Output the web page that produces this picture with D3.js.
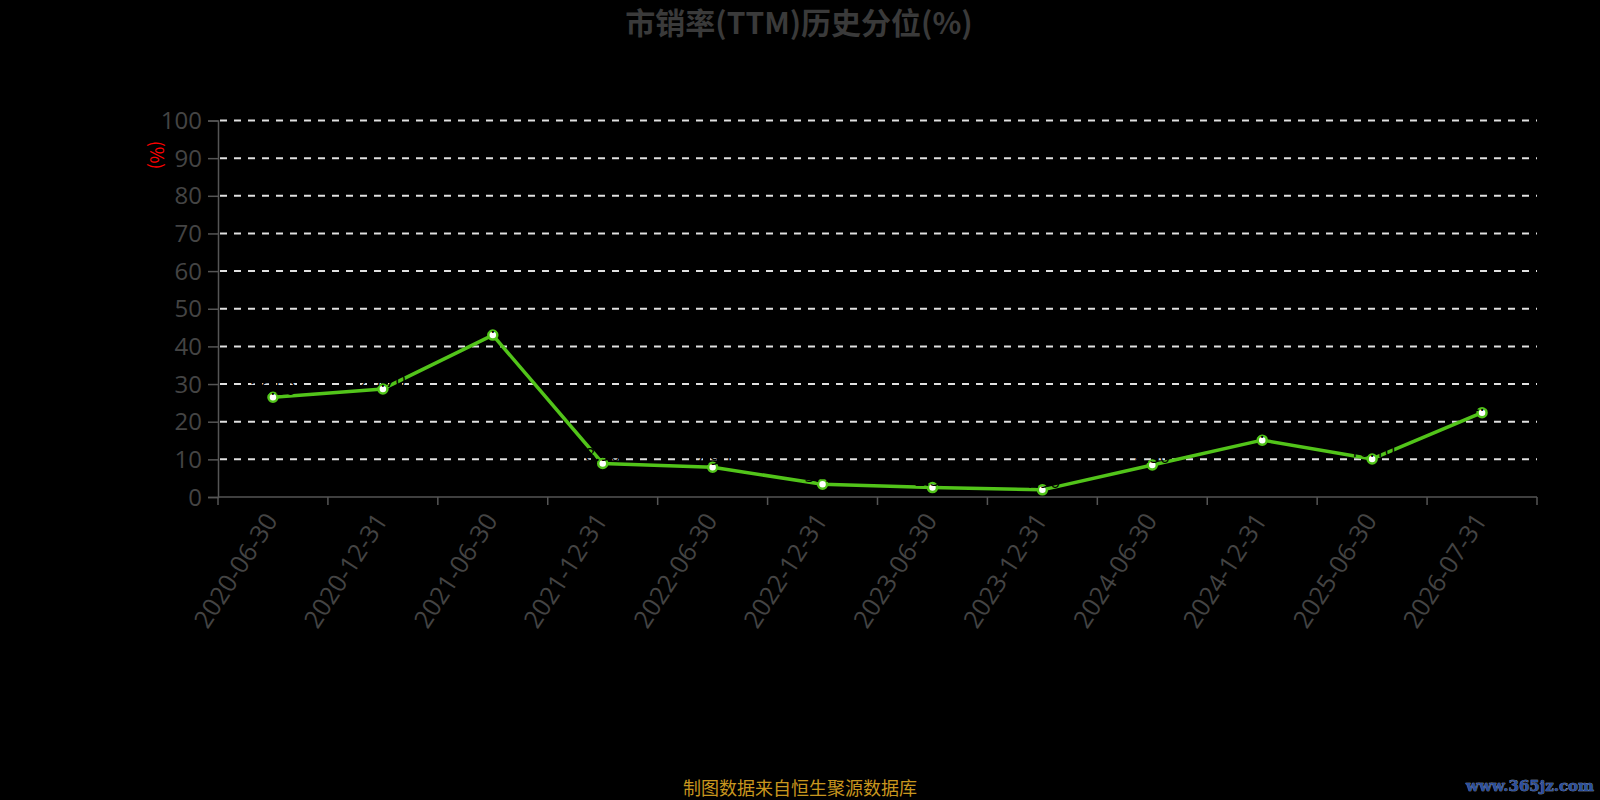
<!DOCTYPE html>
<html><head><meta charset="utf-8">
<script src="https://cdn.jsdelivr.net/npm/d3@7"></script>
<style>body{margin:0;background:#000;}svg{display:block;}</style>
</head><body>
<svg id="c" width="1600" height="800"></svg>
<script>
const categories = ["2020-06-30","2020-12-31","2021-06-30","2021-12-31","2022-06-30","2022-12-31","2023-06-30","2023-12-31","2024-06-30","2024-12-31","2025-06-30","2026-07-31"];
const values = [26.5, 28.7, 43.0, 8.9, 7.9, 3.4, 2.5, 1.9, 8.5, 15.1, 10.1, 22.4];
const yTicks = [0,10,20,30,40,50,60,70,80,90,100];
const titleText = "市销率(TTM)历史分位(%)";
const footText = "制图数据来自恒生聚源数据库";

const W = 1600, H = 800;
const m = {left: 218, right: 63, top: 120.5, bottom: 303};
const svg = d3.select("#c");
svg.append("rect").attr("width", W).attr("height", H).attr("fill", "#000");

const x = d3.scaleBand().domain(categories).range([m.left, W - m.right]).paddingInner(0).paddingOuter(0);
const y = d3.scaleLinear().domain([0, 100]).range([H - m.bottom, m.top]);
const font = "'Noto Sans CJK SC','Noto Sans',sans-serif";

// title
svg.append("text").attr("x", 799).attr("y", 34).attr("text-anchor", "middle")
  .attr("font-family", font).attr("font-weight", "bold").attr("font-size", 30)
  .attr("fill", "#3a3a3a").text(titleText);

// grid
svg.append("g").selectAll("line").data(yTicks.filter(d => d > 0)).join("line")
  .attr("x1", m.left).attr("x2", W - m.right)
  .attr("y1", d => y(d)).attr("y2", d => y(d))
  .attr("stroke", "#e0e0e0").attr("stroke-width", 2).attr("stroke-dasharray", "7,7")
  .attr("stroke-dashoffset", -2);

// y axis
const gy = svg.append("g").attr("transform", `translate(${m.left},0)`)
  .call(d3.axisLeft(y).tickValues(yTicks).tickSize(10).tickPadding(6));
gy.select(".domain").attr("stroke", "#555").attr("stroke-width", 1.5);
gy.selectAll(".tick line").attr("stroke", "#555").attr("stroke-width", 1.5);
gy.selectAll(".tick text").attr("fill", "#444").attr("font-size", 24)
  .attr("font-family", "'Open Sans',sans-serif").attr("dy", "0.34em");

// y axis name
svg.append("text").attr("transform", `translate(150,155) rotate(90)`)
  .attr("text-anchor", "middle").attr("font-family", font).attr("font-size", 18)
  .attr("fill", "#ff0000").text("(%)");

// x axis
const xb = [...categories.map(c => x(c)), W - m.right];
svg.append("line").attr("x1", m.left).attr("x2", W - m.right)
  .attr("y1", y(0)).attr("y2", y(0)).attr("stroke", "#555").attr("stroke-width", 1.5);
svg.append("g").selectAll("line").data(xb).join("line")
  .attr("x1", d => d).attr("x2", d => d).attr("y1", y(0)).attr("y2", y(0) + 8)
  .attr("stroke", "#555").attr("stroke-width", 1.5);
svg.append("g").selectAll("text").data(categories).join("text")
  .attr("transform", d => `translate(${x(d) + x.bandwidth() / 2 - 9},${y(0) + 14}) rotate(-57)`)
  .attr("text-anchor", "end").attr("dy", "0.7em")
  .attr("font-family", "'Open Sans',sans-serif").attr("font-size", 25).attr("fill", "#444")
  .text(d => d);

// line
const cx = (d, i) => x(categories[i]) + x.bandwidth() / 2;
const line = d3.line().x((d, i) => cx(d, i)).y(d => y(d));
svg.append("path").datum(values).attr("d", line).attr("fill", "none")
  .attr("stroke", "#52c41a").attr("stroke-width", 3.5).attr("stroke-linejoin", "round");
svg.append("g").selectAll("circle").data(values).join("circle")
  .attr("cx", (d, i) => cx(d, i)).attr("cy", d => y(d)).attr("r", 4.5)
  .attr("fill", "#fff").attr("stroke", "#52c41a").attr("stroke-width", 2.5);
// labels (black)
svg.append("g").selectAll("text").data(values).join("text")
  .attr("x", (d, i) => cx(d, i)).attr("y", d => y(d) - 2).attr("text-anchor", "middle")
  .attr("font-family", "'Open Sans',sans-serif").attr("font-size", 18).attr("fill", "#000")
  .text(d => d.toFixed(2));

// footer
svg.append("text").attr("x", 800).attr("y", 795).attr("text-anchor", "middle")
  .attr("font-family", font).attr("font-size", 18).attr("fill", "#c8961e").text(footText);
// watermark
svg.append("text").attr("x", 1594).attr("y", 791).attr("text-anchor", "end")
  .attr("font-family", "'DejaVu Serif',serif").attr("font-weight", "bold").attr("font-size", 15)
  .attr("fill", "#2b4f9e").attr("stroke", "#9aa7c0").attr("stroke-width", 0.6)
  .attr("paint-order", "stroke").text("www.365jz.com");
</script>
</body></html>
